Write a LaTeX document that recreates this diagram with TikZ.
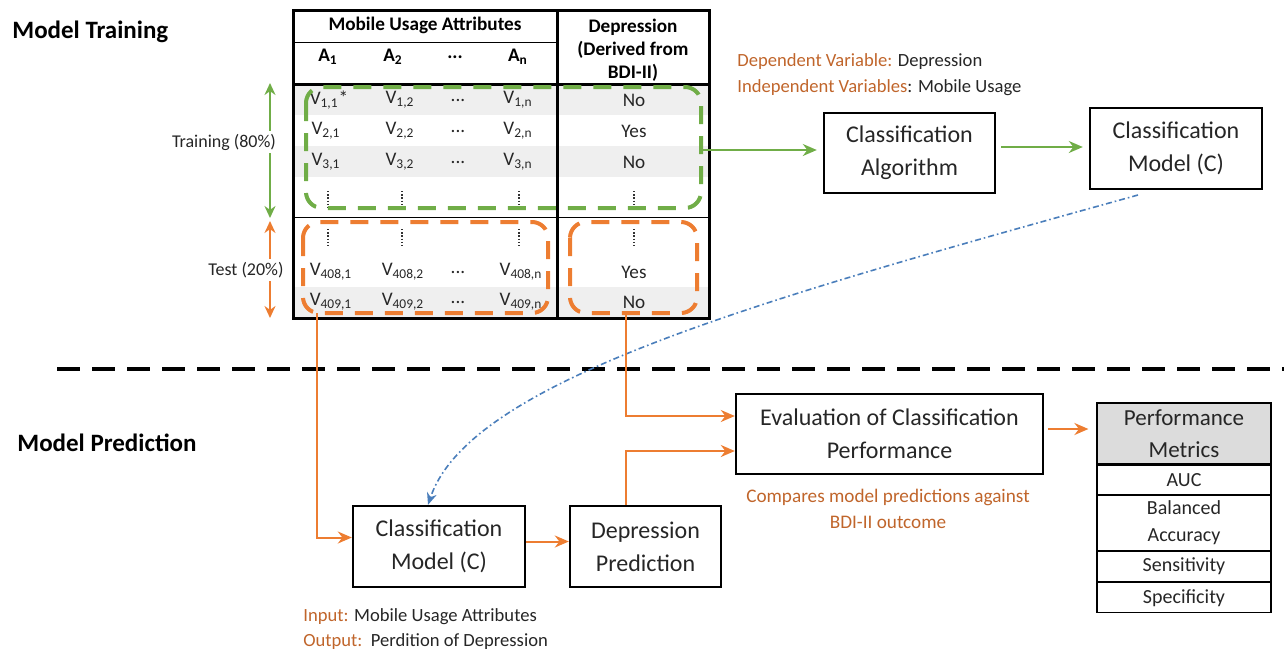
\documentclass[tikz,border=0pt]{standalone}
\usepackage{fontspec}
\setmainfont{Carlito}
\usetikzlibrary{arrows.meta}
\definecolor{cgreen}{HTML}{70AD47}
\definecolor{corange}{HTML}{ED7D31}
\definecolor{cbrown}{HTML}{C0652B}
\definecolor{cblue}{HTML}{4A7EBB}
\definecolor{cband}{HTML}{EFEFEF}
\definecolor{chead}{HTML}{DCDCDC}
\definecolor{ctext}{HTML}{262626}
\begin{document}
\begin{tikzpicture}[x=0.5pt,y=-0.5pt,
  box/.style={draw, line width=1.2pt, align=center, inner sep=0pt, text=ctext, font=\fontsize{12}{16.5}\selectfont},
  tbl/.style={inner sep=0pt, text=ctext, font=\fontsize{9.6}{11}\selectfont},
  tblb/.style={inner sep=0pt, text=black, align=center, font=\fontsize{9.6}{11.5}\selectfont\bfseries},
  note/.style={inner sep=0pt, anchor=west, text=ctext, font=\fontsize{9.3}{13}\selectfont},
  title/.style={inner sep=0pt, anchor=west, font=\fontsize{12.5}{15}\selectfont\bfseries},
  pm/.style={draw, line width=0.6pt, minimum width=87pt, inner sep=0pt, align=center, text=ctext, font=\fontsize{10}{13.5}\selectfont},
  garrow/.style={draw=cgreen, line width=1pt, -{Stealth[length=7pt,width=6pt]}},
  oarrow/.style={draw=corange, line width=1pt, -{Stealth[length=7pt,width=6pt]}},
  gdash/.style={draw=cgreen, line width=2pt, dash pattern=on 9pt off 6pt, rounded corners=8pt},
  odash/.style={draw=corange, line width=2pt, dash pattern=on 9pt off 6pt, rounded corners=8pt},
  vdot/.style={draw=black!80, line width=1pt, dash pattern=on 0.7pt off 0.9pt},
  tline/.style={draw, line width=1.5pt},
  thin/.style={draw, line width=0.5pt}
]
\useasboundingbox (0,0) rectangle (1284,654);

% titles
\node[title] (tTrain) at (12,32) {Model Training};
\node[title] (tPred) at (17,443) {Model Prediction};

% separator
\coordinate (sepL) at (57,369);
\coordinate (sepR) at (1284,369);
\draw[line width=2pt, dash pattern=on 11.5pt off 6pt] (sepL) -- (sepR);

% table bands
\fill[cband] (293,85) rectangle (709,115);
\fill[cband] (293,146) rectangle (709,177);
\fill[cband] (293,287) rectangle (709,317);

% table lines
\draw[thin] (293,42) -- (557,42);
\draw[thin] (293,217) -- (709,217);
\draw[tline] (293,84) -- (709,84);
\draw[tline] (557,10) -- (557,318);
\draw[tline] (293,10) rectangle (709,318);

% header texts
\node[tblb] (hMUA) at (425,25) {Mobile Usage Attributes};
\node[tblb] (hDep) at (633,50) {Depression\\(Derived from\\BDI-II)};
\node[tblb] (hA1) at (328,57) {A\textsubscript{1}};
\node[tblb] (hA2) at (393,57) {A\textsubscript{2}};
\node[tblb] (hAd) at (455,57) {...};
\node[tblb] (hAn) at (518,57) {A\textsubscript{n}};

% rows
\node[tbl] (r1a) at (329,100) {V\textsubscript{1,1}*};
\node[tbl] (r1b) at (400,100) {V\textsubscript{1,2}};
\node[tbl] (r1c) at (458,100) {...};
\node[tbl] (r1d) at (518,100) {V\textsubscript{1,n}};
\node[tbl] (r1e) at (634,100) {No};
\node[tbl] (r2a) at (326,131) {V\textsubscript{2,1}};
\node[tbl] (r2b) at (400,131) {V\textsubscript{2,2}};
\node[tbl] (r2c) at (458,131) {...};
\node[tbl] (r2d) at (518,131) {V\textsubscript{2,n}};
\node[tbl] (r2e) at (634,131) {Yes};
\node[tbl] (r3a) at (326,162) {V\textsubscript{3,1}};
\node[tbl] (r3b) at (400,162) {V\textsubscript{3,2}};
\node[tbl] (r3c) at (458,162) {...};
\node[tbl] (r3d) at (518,162) {V\textsubscript{3,n}};
\node[tbl] (r3e) at (634,162) {No};
\node[tbl] (r8a) at (331,272) {V\textsubscript{408,1}};
\node[tbl] (r8b) at (403,272) {V\textsubscript{408,2}};
\node[tbl] (r8c) at (458,272) {...};
\node[tbl] (r8d) at (521,272) {V\textsubscript{408,n}};
\node[tbl] (r8e) at (634,272) {Yes};
\node[tbl] (r9a) at (331,302) {V\textsubscript{409,1}};
\node[tbl] (r9b) at (403,302) {V\textsubscript{409,2}};
\node[tbl] (r9c) at (458,302) {...};
\node[tbl] (r9d) at (521,302) {V\textsubscript{409,n}};
\node[tbl] (r9e) at (634,302) {No};

% vertical dots
\foreach \x in {328,402,519,634} {
  \draw[vdot] (\x,191) -- (\x,210);
  \draw[vdot] (\x,229) -- (\x,248);
}

% dashed selection boxes
\draw[gdash] (306,87) rectangle (701,208);
\draw[odash] (303,222) rectangle (548,313);
\draw[odash] (570,222) rectangle (697,313);

% training / test arrows
\coordinate (trTop) at (270,83);
\coordinate (trBot) at (270,218);
\coordinate (teTop) at (270,221);
\coordinate (teBot) at (270,318);
\draw[draw=cgreen, line width=1pt, {Stealth[length=6pt,width=5.5pt]}-{Stealth[length=6pt,width=5.5pt]}] (trTop) -- (trBot);
\draw[draw=corange, line width=1pt, {Stealth[length=6pt,width=5.5pt]}-{Stealth[length=6pt,width=5.5pt]}] (teTop) -- (teBot);
\node[tbl, fill=white, inner sep=1.5pt, font=\fontsize{9}{11}\selectfont] (lTrain) at (224,142) {Training (80\%)};
\node[tbl, fill=white, inner sep=1.5pt, font=\fontsize{9}{11}\selectfont] (lTest) at (246,270) {Test (20\%)};

% annotations
\node[note] (nDep) at (737,62) {\textcolor{cbrown}{Dependent Variable:} Depression};
\node[note] (nInd) at (737,88) {\textcolor{cbrown}{Independent Variables}: Mobile Usage};
\node[note] (nIn) at (303,617) {\textcolor{cbrown}{Input:} Mobile Usage Attributes};
\node[note] (nOut) at (303,642) {\textcolor{cbrown}{Output:}\ \ Perdition of Depression};
\node[inner sep=0pt, align=center, text=cbrown, font=\fontsize{9.6}{13}\selectfont] (nCmp) at (888,509) {Compares model predictions against\\BDI-II outcome};

% boxes
\node[box, minimum width=85.5pt, minimum height=40pt] (algo) at (909.5,153) {Classification\\Algorithm};
\node[box, minimum width=86pt, minimum height=40.5pt] (cmTop) at (1176,148.5) {Classification\\Model (C)};
\node[box, minimum width=86pt, minimum height=40.5pt] (cmBot) at (439,546.5) {Classification\\Model (C)};
\node[box, minimum width=75.5pt, minimum height=40.5pt] (dp) at (645.5,546.5) {Depression\\Prediction};
\node[box, minimum width=153.5pt, minimum height=40pt] (eval) at (889.5,434) {Evaluation of Classification\\Performance};

% performance metrics
\node[pm, fill=chead, minimum height=30.5pt, font=\fontsize{11.5}{16}\selectfont] (pmH) at (1184,433.5) {Performance\\Metrics};
\node[pm, minimum height=14.5pt, anchor=north] (pmA) at (pmH.south) {AUC};
\node[pm, minimum height=27.5pt, anchor=north] (pmB) at (pmA.south) {Balanced\\Accuracy};
\node[pm, minimum height=15pt, anchor=north] (pmS) at (pmB.south) {Sensitivity};
\node[pm, minimum height=15pt, anchor=north] (pmP) at (pmS.south) {Specificity};

% connectors
\coordinate (gbR) at (701,150);
\draw[garrow] (gbR) -- ([xshift=-3pt]gbR -| algo.west);
\draw[garrow] ([xshift=2.5pt, yshift=3pt]algo.east) -- ([xshift=-3pt, yshift=3pt]algo.east -| cmTop.west);

\coordinate (blueS) at (1138,195);
\draw[draw=cblue, line width=0.8pt, dash pattern=on 3pt off 1.5pt on 0.8pt off 1.5pt, -{Stealth[length=6pt,width=5pt]}]
  (blueS) .. controls (760,300) and (470,380) .. ([xshift=-5.5pt]cmBot.north);

\coordinate (obL) at (317,313);
\coordinate (obR) at (626,313);
\draw[oarrow] (obL) |- ([yshift=4.5pt]cmBot.west);
\draw[oarrow] ([yshift=2.5pt]cmBot.east) -- ([yshift=2.5pt]dp.west);
\draw[oarrow] ([xshift=-9.75pt]dp.north) |- ([yshift=-8.5pt]eval.west);
\draw[oarrow] (obR) |- ([yshift=9pt]eval.west);
\draw[oarrow] ([xshift=2pt, yshift=2.5pt]eval.east) -- ([xshift=-4pt, yshift=2.5pt]eval.east -| pmH.west);
\end{tikzpicture}
\end{document}
